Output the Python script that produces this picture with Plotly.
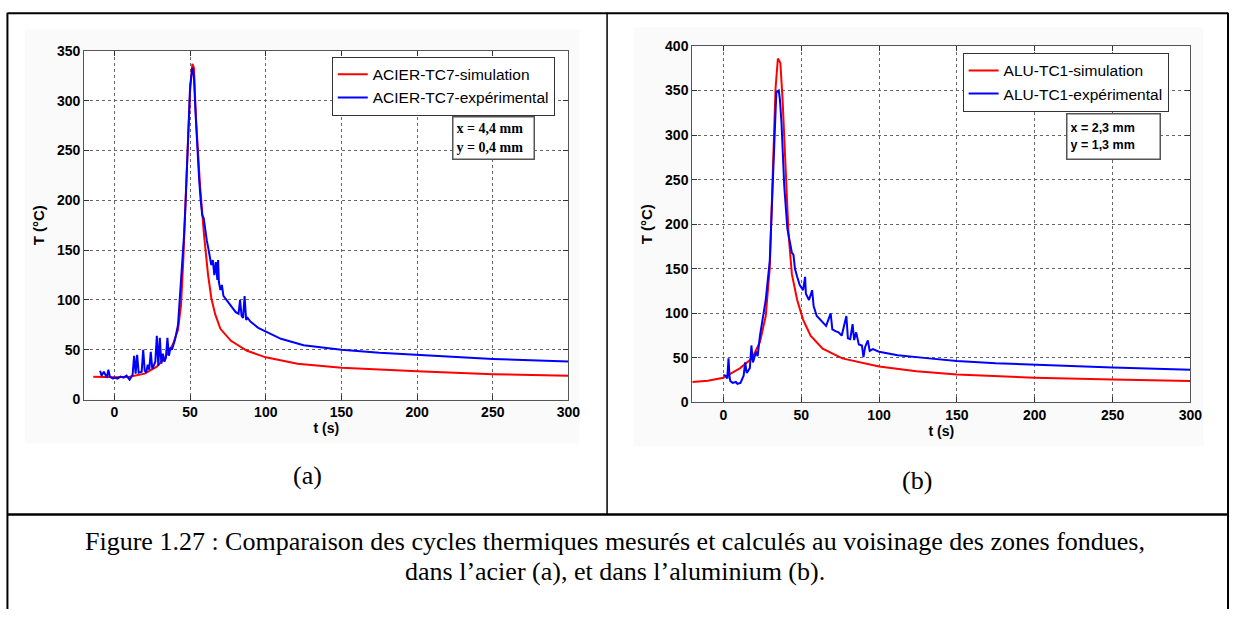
import plotly.graph_objects as go

# ---------------- data ----------------
# (a) steel, simulation
acier_sim_t = [-14, -5, 0, 10, 20, 28, 33, 38.5, 42, 44, 45.5, 47, 48.5, 50, 51.5, 52.5, 54, 56.6,
               59.2, 61.8, 64, 66.5, 70, 77, 87.6, 100, 121, 150, 200, 250, 300]
acier_sim_T = [22.9, 22.6, 22.5, 23, 26, 33, 41, 55, 70, 95, 140, 200, 260, 310, 337, 333, 279, 214,
               165, 126, 102, 86, 71, 59, 49, 42.4, 36, 32, 28.4, 25.5, 23.8]
# (a) steel, experiment
acier_exp_t = [-9.5, -8.5, -7, -5, -4, -3, -1, 0, 2, 4, 6, 8, 10, 11, 12, 13, 14, 15, 16, 18, 19, 20,
               21, 22, 23, 24, 25, 26, 27, 28, 29, 30, 31, 32, 33, 34, 35, 36, 37, 38, 40, 42, 43, 44,
               45, 46, 47, 48, 49, 50, 51.5, 52.5, 53.5, 55, 56, 57, 58, 59, 60, 61, 62, 63, 64, 65,
               66, 67, 68, 68.5, 69, 70, 71, 72, 74, 76, 78, 80, 82, 83, 84, 85, 86, 87, 88, 90, 95,
               100, 110, 125, 150, 175, 200, 225, 250, 275, 300]
acier_exp_T = [29, 24, 28, 22, 30, 23, 21, 22, 21, 23, 22, 24, 20, 23, 25, 44, 26, 45, 27, 28, 50, 29,
               27, 35, 30, 48, 31, 34, 38, 64, 34, 62, 36, 46, 38, 42, 62, 44, 52, 50, 60, 75, 95, 122,
               140, 165, 197, 240, 280, 315, 333, 325, 290, 245, 220, 200, 185, 182, 168, 160, 152, 145, 135, 140,
               125, 138, 120, 140, 118, 110, 115, 104, 100, 95, 92, 88, 86, 100, 84, 82, 104, 80, 82, 78, 72,
               68.6, 61, 54.5, 50, 47, 44.7, 42.5, 40.8, 39.5, 38.2]
# (b) aluminium, simulation
alu_sim_t = [-20, -10, 0, 10.8, 18.4, 23.5, 27.2, 29.8, 31.8, 33.5, 35, 36.6, 38, 39.9, 41.9, 44, 47.4,
             51.2, 56, 63.8, 76.4, 100, 124, 150, 200, 250, 300]
alu_sim_T = [23, 24.5, 27.7, 38.6, 49.5, 68, 97, 151, 261, 352, 386, 381, 341, 268, 188, 144, 115,
             93, 75, 60.5, 49.5, 40.4, 35, 31.3, 27.7, 25.9, 24]
# (b) aluminium, experiment
alu_exp_t = [0, 1.5, 2.5, 3.3, 4, 4.5, 6, 8, 9, 11, 13, 14, 15, 17, 18, 19, 21, 22, 23.5, 25, 27.2, 29.8,
             31, 32.3, 34, 35.6, 36.3, 37.3, 39.1, 41.1, 43.1, 44, 45, 46, 47.4, 49, 51.2, 52.5, 53, 55,
             57, 58, 60, 62, 63.8, 66, 68.9, 70, 72, 74, 76, 79, 80, 81.5, 83, 84, 85.3, 87, 89, 90, 91,
             92.8, 94, 96, 100, 112, 132, 150, 175, 200, 250, 300]
alu_exp_T = [31, 30, 27, 49.5, 28, 24, 22, 23, 21, 22, 30, 45, 33, 38.6, 64, 45, 57, 52, 75, 90, 115, 159,
             210, 279, 348, 350, 340, 315, 243, 195, 177, 168, 166, 150, 141, 132, 126, 141, 122, 115,
             126, 108, 97, 93, 89.6, 86, 100, 82, 80, 78.7, 75, 97, 72, 71, 88, 70, 78.7, 65, 64, 51, 62,
             69.6, 58, 60, 57, 53, 49.5, 46.6, 44, 42.3, 39.3, 36.8]

x_ticks = [0, 50, 100, 150, 200, 250, 300]
y_ticks_a = [0, 50, 100, 150, 200, 250, 300, 350]
y_ticks_b = [0, 50, 100, 150, 200, 250, 300, 350, 400]

W, H = 1242, 617
RED, BLUE = "#ff0000", "#0000ff"

fig = go.Figure()
fig.add_trace(go.Scatter(x=acier_sim_t, y=acier_sim_T, mode="lines", name="ACIER-TC7-simulation",
                         line=dict(color=RED, width=2), xaxis="x", yaxis="y", legend="legend"))
fig.add_trace(go.Scatter(x=acier_exp_t, y=acier_exp_T, mode="lines", name="ACIER-TC7-expérimental",
                         line=dict(color=BLUE, width=2), xaxis="x", yaxis="y", legend="legend"))
fig.add_trace(go.Scatter(x=alu_sim_t, y=alu_sim_T, mode="lines", name="ALU-TC1-simulation",
                         line=dict(color=RED, width=2), xaxis="x2", yaxis="y2", legend="legend2"))
fig.add_trace(go.Scatter(x=alu_exp_t, y=alu_exp_T, mode="lines", name="ALU-TC1-expérimental",
                         line=dict(color=BLUE, width=2), xaxis="x2", yaxis="y2", legend="legend2"))

# plot-area pixel boxes (left, top, right, bottom)
box_a = (85, 44, 574, 402)
box_b = (699, 39, 1202, 405)


def dom(b):
    l, t, r, bt = b
    return [l / W, r / W], [1 - bt / H, 1 - t / H]


xa, ya = dom(box_a)
xb, yb = dom(box_b)

tickfont = dict(family="Liberation Sans, Arial", size=14, color="#000", weight="bold")
xtitlefont = dict(family="Liberation Sans, Arial", size=14, color="#000", weight="bold")
ytitlefont = dict(family="Liberation Sans, Arial", size=15, color="#000", weight="bold")
common = dict(showline=True, linecolor="#555", linewidth=1, mirror="ticks", ticks="inside",
              ticklen=5, tickcolor="#333", showgrid=True, gridcolor="#666", griddash="dot",
              gridwidth=1, zeroline=False, tickfont=tickfont)

legfont = dict(family="Liberation Sans, Arial", size=15.5, color="#000")
fig.update_layout(
    width=W, height=H, margin=dict(l=0, r=0, t=0, b=0),
    paper_bgcolor="white", plot_bgcolor="white", showlegend=True,
    xaxis=dict(domain=xa, range=[-20, 300], tickvals=x_ticks, anchor="y",
               title=dict(text="t (s)", font=xtitlefont, standoff=3), **common),
    yaxis=dict(domain=ya, range=[0, 350], tickvals=y_ticks_a, anchor="x",
               title=dict(text="T (°C)", font=ytitlefont, standoff=8), **common),
    xaxis2=dict(domain=xb, range=[-20, 300], tickvals=x_ticks, anchor="y2",
                title=dict(text="t (s)", font=xtitlefont, standoff=3), **common),
    yaxis2=dict(domain=yb, range=[0, 400], tickvals=y_ticks_b, anchor="x2",
                title=dict(text="T (°C)", font=ytitlefont, standoff=8), **common),
    legend=dict(x=335 / W, y=1 - 50 / H, xanchor="left", yanchor="top", bgcolor="white",
                bordercolor="#333", borderwidth=1, font=legfont, tracegroupgap=0, itemwidth=30),
    legend2=dict(x=972 / W, y=1 - 46 / H, xanchor="left", yanchor="top", bgcolor="white",
                 bordercolor="#333", borderwidth=1, font=legfont, tracegroupgap=0, itemwidth=30),
)

shapes = []
# faint grey panel backgrounds with white plot areas on top
for (gx0, gy0, gx1, gy1), b in [((25, 22, 585, 447), box_a), ((640, 20, 1215, 450), box_b)]:
    shapes.append(dict(type="rect", xref="paper", yref="paper", x0=gx0 / W, x1=gx1 / W,
                       y0=1 - gy1 / H, y1=1 - gy0 / H, fillcolor="#fafafa", line=dict(width=0), layer="below"))
    shapes.append(dict(type="rect", xref="paper", yref="paper", x0=b[0] / W, x1=b[2] / W,
                       y0=1 - b[3] / H, y1=1 - b[1] / H, fillcolor="white", line=dict(width=0), layer="below"))


def line(x0, y0, x1, y1, w):
    shapes.append(dict(type="line", xref="paper", yref="paper", x0=x0 / W, x1=x1 / W,
                       y0=1 - y0 / H, y1=1 - y1 / H, line=dict(color="black", width=w), layer="above"))


line(7.5, 5.5, 1240, 5.5, 2)      # top
line(7.5, 5, 7.5, 617, 2)         # left
line(1240, 5, 1240, 617, 2)       # right
line(7.5, 520, 1240, 520, 2.5)    # separator above caption
line(613, 5, 613, 520, 1.5)       # divider between panels
fig.update_layout(shapes=shapes)

ann = []
ann.append(dict(xref="paper", yref="paper", x=498.5 / W, y=1 - 133.5 / H, xanchor="center", yanchor="middle",
                text="x = 4,4 mm<br>y = 0,4 mm", showarrow=False, align="left",
                font=dict(family="Liberation Serif, Times New Roman", size=14, color="#000", weight="bold"),
                bordercolor="#555", borderwidth=1.5, borderpad=3, bgcolor="white", width=74, height=35))
ann.append(dict(xref="paper", yref="paper", x=1124 / W, y=1 - 132 / H, xanchor="center", yanchor="middle",
                text="x = 2,3 mm<br>y = 1,3 mm", showarrow=False, align="left",
                font=dict(family="Liberation Sans, Arial", size=12.5, color="#000", weight="bold"),
                bordercolor="#555", borderwidth=1.5, borderpad=3, bgcolor="white", width=86, height=38))
labfont = dict(family="Liberation Serif, Times New Roman", size=26, color="#000")
ann.append(dict(xref="paper", yref="paper", x=310 / W, y=1 - 480 / H, xanchor="center", yanchor="middle",
                text="(a)", showarrow=False, font=labfont))
ann.append(dict(xref="paper", yref="paper", x=926 / W, y=1 - 485 / H, xanchor="center", yanchor="middle",
                text="(b)", showarrow=False, font=labfont))
capfont = dict(family="Liberation Serif, Times New Roman", size=26, color="#000")
ann.append(dict(xref="paper", yref="paper", x=621 / W, y=1 - 548 / H, xanchor="center", yanchor="middle",
                text="Figure 1.27 : Comparaison des cycles thermiques mesurés et calculés au voisinage des zones fondues,",
                showarrow=False, font=capfont))
ann.append(dict(xref="paper", yref="paper", x=621 / W, y=1 - 578 / H, xanchor="center", yanchor="middle",
                text="dans l’acier (a), et dans l’aluminium (b).", showarrow=False, font=capfont))
fig.update_layout(annotations=ann)

post = (
    "document.documentElement.style.margin='0';document.body.style.margin='0';"
    "document.documentElement.style.overflow='hidden';document.body.style.overflow='hidden';"
)
fig.write_html("out.html", config={"displayModeBar": False}, post_script=post)
